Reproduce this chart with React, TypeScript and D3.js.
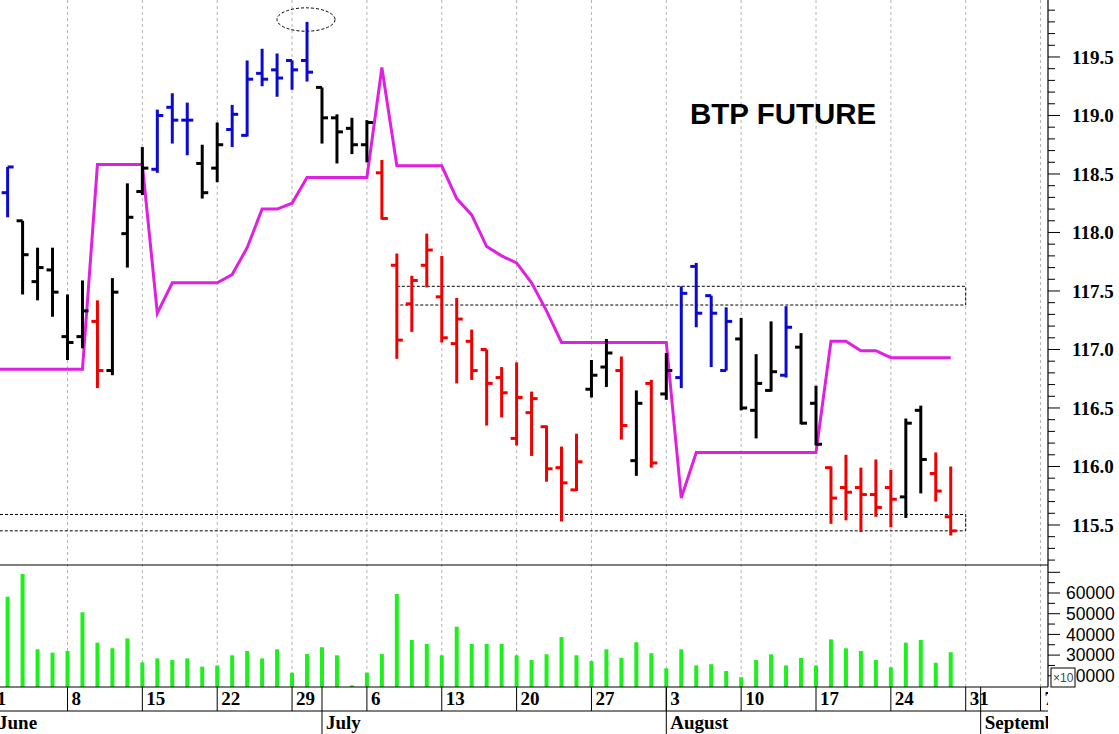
import React from "react";
import * as d3 from "d3";

// ---------- DATA ----------
const dates = [
  "2015-06-01","2015-06-02","2015-06-03","2015-06-04","2015-06-05",
  "2015-06-08","2015-06-09","2015-06-10","2015-06-11","2015-06-12",
  "2015-06-15","2015-06-16","2015-06-17","2015-06-18","2015-06-19",
  "2015-06-22","2015-06-23","2015-06-24","2015-06-25","2015-06-26",
  "2015-06-29","2015-06-30","2015-07-01","2015-07-02","2015-07-03",
  "2015-07-06","2015-07-07","2015-07-08","2015-07-09","2015-07-10",
  "2015-07-13","2015-07-14","2015-07-15","2015-07-16","2015-07-17",
  "2015-07-20","2015-07-21","2015-07-22","2015-07-23","2015-07-24",
  "2015-07-27","2015-07-28","2015-07-29","2015-07-30","2015-07-31",
  "2015-08-03","2015-08-04","2015-08-05","2015-08-06","2015-08-07",
  "2015-08-10","2015-08-11","2015-08-12","2015-08-13","2015-08-14",
  "2015-08-17","2015-08-18","2015-08-19","2015-08-20","2015-08-21",
  "2015-08-24","2015-08-25","2015-08-26","2015-08-27","2015-08-28",
];

const opens = [
  117.90,118.34,118.10,117.58,117.68, 117.11,117.11,117.24,116.82,117.99,
  118.35,118.54,119.07,118.96,118.59, 118.55,118.88,118.83,119.36,119.39,
  119.47,119.47,119.24,118.98,118.89, 118.75,118.51,117.72,117.39,117.72,
  117.45,117.05,117.07,117.00,116.76, 116.24,116.46,116.34,115.99,115.80,
  116.66,116.85,116.82,116.05,116.71, 116.62,116.76,117.71,117.46,116.82,
  117.09,116.48,116.65,116.78,117.02, 116.54,115.99,115.82,115.82,115.76,
  115.82,115.74,116.48,115.94,115.57,
];
const highs = [
  118.05,118.56,118.10,117.87,117.87, 117.47,117.59,117.42,117.61,118.42,
  118.73,119.05,119.19,119.11,118.75, 118.94,119.09,119.47,119.57,119.53,
  119.47,119.80,119.24,119.01,118.98, 118.96,118.62,117.82,117.63,117.99,
  117.80,117.44,117.17,117.00,116.85, 116.89,116.64,116.35,116.17,116.28,
  116.91,117.09,116.94,116.65,116.74, 116.97,117.54,117.74,117.46,117.36,
  117.27,116.96,117.24,117.37,117.14, 116.69,116.00,116.10,115.99,116.06,
  115.97,116.41,116.52,116.12,116.00,
];
const lows = [
  117.55,118.13,117.47,117.42,117.28, 116.91,117.01,116.67,116.78,117.70,
  118.32,118.51,118.76,118.66,118.29, 118.43,118.73,118.82,119.25,119.16,
  119.22,119.29,118.76,118.59,118.67, 118.60,118.11,116.92,117.15,117.53,
  117.06,116.71,116.74,116.35,116.42, 116.18,116.09,115.87,115.53,115.79,
  116.59,116.68,116.23,115.92,115.99, 116.57,116.67,117.19,116.85,116.82,
  116.48,116.24,116.64,116.76,116.36, 116.18,115.51,115.54,115.44,115.57,
  115.48,115.56,115.77,115.70,115.41,
];
const closes = [
  117.70,118.56,117.81,117.70,117.49, 117.06,117.33,116.82,117.49,118.13,
  118.55,119.00,118.96,118.96,118.34, 118.75,119.01,119.31,119.31,119.32,
  119.39,119.37,118.98,118.86,118.75, 118.94,118.12,117.08,117.59,117.85,
  117.10,117.26,116.82,116.71,116.63, 116.59,116.58,115.98,115.86,116.04,
  116.78,116.97,116.35,116.54,116.03, 116.82,117.48,117.31,117.31,117.24,
  116.50,116.71,116.81,117.19,116.37, 116.19,115.73,115.78,115.76,115.65,
  115.72,116.37,116.06,115.79,115.45,
];
// trend signal of each bar: B = up (blue), K = neutral (black), R = down (red)
const signals = [
  "K","B","K","K","K", "K","K","R","K","K",
  "K","B","B","B","K", "K","B","B","B","B",
  "B","B","K","K","K", "K","R","R","R","R",
  "R","R","R","R","R", "R","R","R","R","R",
  "K","K","R","K","R", "K","B","B","B","B",
  "K","K","K","B","K", "K","R","R","R","R",
  "R","K","K","R","R",
];
const stopLine = [
  116.83,116.83,116.83,116.83,116.83, 116.83,116.83,118.58,118.58,118.58,
  118.58,117.31,117.57,117.57,117.57, 117.57,117.64,117.87,118.20,118.20,
  118.25,118.47,118.47,118.47,118.47, 118.47,119.41,118.57,118.57,118.57,
  118.57,118.29,118.15,117.88,117.80, 117.74,117.57,117.33,117.06,117.06,
  117.06,117.06,117.06,117.06,117.06, 117.06,115.73,116.12,116.12,116.12,
  116.12,116.12,116.12,116.12,116.12, 116.12,117.07,117.07,116.99,116.99,
  116.93,116.93,116.93,116.93,116.93,
];
const volumes = [
  40000,58200,69200,32800,31200, 32000,50700,36000,33300,38100,
  26500,28400,27600,28400,24400, 25000,29900,32000,28400,32800,
  21500,30500,33800,29900,15400, 21500,30500,59500,37300,35400,
  29900,43700,35400,35400,35400, 29900,27600,30400,38700,29900,
  27100,32800,28600,36200,30900, 23600,32800,25000,25600,22300,
  19300,27600,30400,25000,28600, 25000,37600,33300,32000,27600,
  24100,36000,37300,26300,31400,
];
const monthNames = ["June", "July", "August", "September"];
const title = "BTP FUTURE";
// annotation zones (price levels)
const upperZone = [117.38, 117.54];
const lowerZone = [115.45, 115.59];
const peakDate = "2015-06-30";

// ---------- LAYOUT ----------
const W = 1119, H = 734;
const AXIS_X = 1048;
const PRICE_BOTTOM = 565;
const VOL_BOTTOM = 687;
const DATE_ROW = 711;

const parse = d3.timeParse("%Y-%m-%d");
const startDay = parse(dates[0]) as Date;
const tradeIndex = (d: Date) =>
  d3.timeMonday.count(startDay, d) * 5 + ((d.getDay() + 6) % 7);

const x = d3.scaleLinear().domain([0, 65]).range([-7.35, 965.7]);
const yP = d3.scaleLinear().domain([115.158, 119.987]).range([PRICE_BOTTOM, 0]);
const yV = d3.scaleLinear().domain([14590, 73530]).range([VOL_BOTTOM, PRICE_BOTTOM]);

const colorOf: Record<string, string> = { B: "#0a0ad2", K: "#000000", R: "#f00000" };

export default function App() {
  const pts = dates.map((s, i) => ({
    i: tradeIndex(parse(s) as Date),
    o: opens[i], h: highs[i], l: lows[i], c: closes[i],
    sig: signals[i], v: volumes[i], stop: stopLine[i],
  }));

  const mondays = d3.timeMonday.range(startDay, new Date(2015, 8, 8));
  const monthStarts = d3.timeMonth.range(new Date(2015, 5, 1), new Date(2015, 9, 1)).map((m) => {
    let d = m;
    while (d.getDay() === 0 || d.getDay() === 6) d = d3.timeDay.offset(d, 1);
    return d;
  });

  const line = d3.line<any>().x((d) => x(d.i)).y((d) => yP(d.stop));

  const priceTicks = d3.range(1152, 1201).map((v) => v / 10);
  const volTicks = d3.range(15000, 75000, 5000);

  const zoneRight = x(65);
  const upperLeft = x(tradeIndex(parse("2015-07-08") as Date));
  const peakX = x(tradeIndex(parse(peakDate) as Date));

  const serif = "'Liberation Serif', 'Times New Roman', serif";
  const sans = "'Liberation Sans', Arial, sans-serif";

  return (
    <svg width={W} height={H} style={{ position: "absolute", left: 0, top: 0, background: "#fff" }}>
      <defs>
        <clipPath id="plotClip"><rect x={0} y={0} width={AXIS_X} height={VOL_BOTTOM} /></clipPath>
        <clipPath id="axisClip"><rect x={0} y={VOL_BOTTOM} width={AXIS_X} height={H - VOL_BOTTOM} /></clipPath>
      </defs>
      <rect x={0} y={0} width={W} height={H} fill="#fff" />

      {/* grid */}
      <g clipPath="url(#plotClip)">
        {mondays.map((m, k) => (
          <line key={k} x1={x(tradeIndex(m))} x2={x(tradeIndex(m))} y1={0} y2={VOL_BOTTOM}
            stroke="#b4b4b4" strokeWidth={1} strokeDasharray="3,3" />
        ))}
      </g>

      {/* zones & annotation */}
      <g fill="none" stroke="#000" strokeWidth={1} strokeDasharray="3,2">
        <rect x={upperLeft} y={yP(upperZone[1])} width={zoneRight - upperLeft}
          height={yP(upperZone[0]) - yP(upperZone[1])} />
        <rect x={-5} y={yP(lowerZone[1])} width={zoneRight + 5}
          height={yP(lowerZone[0]) - yP(lowerZone[1])} />
        <ellipse cx={peakX - 1} cy={yP(119.82)} rx={29} ry={yP(119.72) - yP(119.82)} />
      </g>

      {/* stop line */}
      <g clipPath="url(#plotClip)">
        <path d={line(pts) as string} fill="none" stroke="#e020e0" strokeWidth={3} strokeLinejoin="miter" />
      </g>

      {/* OHLC bars */}
      <g clipPath="url(#plotClip)">
        {pts.map((p, k) => {
          const cx = x(p.i);
          const col = colorOf[p.sig];
          return (
            <g key={k} stroke={col} strokeWidth={3}>
              <line x1={cx} x2={cx} y1={yP(p.h)} y2={yP(p.l)} />
              <line x1={cx - 6} x2={cx} y1={yP(p.o)} y2={yP(p.o)} />
              <line x1={cx} x2={cx + 6} y1={yP(p.c)} y2={yP(p.c)} />
            </g>
          );
        })}
      </g>

      {/* volume */}
      <g clipPath="url(#plotClip)">
        {pts.map((p, k) => (
          <rect key={k} x={x(p.i) - 2} y={yV(p.v)} width={4} height={VOL_BOTTOM - yV(p.v)} fill="#1ef01e" />
        ))}
      </g>

      {/* title */}
      <text x={690} y={124} fontFamily={sans} fontWeight="bold" fontSize={29.5} fill="#000">{title}</text>

      {/* panel borders */}
      <line x1={0} x2={AXIS_X} y1={PRICE_BOTTOM} y2={PRICE_BOTTOM} stroke="#000" strokeWidth={1.2} />
      <line x1={0} x2={AXIS_X} y1={VOL_BOTTOM} y2={VOL_BOTTOM} stroke="#000" strokeWidth={1.2} />
      <line x1={0} x2={AXIS_X} y1={DATE_ROW} y2={DATE_ROW} stroke="#000" strokeWidth={1} />
      <line x1={AXIS_X} x2={AXIS_X} y1={0} y2={VOL_BOTTOM} stroke="#000" strokeWidth={1.2} />

      {/* price axis */}
      <g>
        {priceTicks.map((v, k) => {
          const major = Math.round(v * 10) % 5 === 0;
          const yy = yP(v);
          return (
            <g key={k}>
              <line x1={AXIS_X} x2={AXIS_X + (major ? 12 : 7)} y1={yy} y2={yy} stroke="#000" strokeWidth={1} />
              {major && yy > 10 && yy < 555 && (
                <text x={1072} y={yy} dy="0.35em" fontFamily={serif} fontWeight="bold" fontSize={19} fill="#000">
                  {v.toFixed(1)}
                </text>
              )}
            </g>
          );
        })}
      </g>

      {/* volume axis */}
      <g>
        {volTicks.map((v, k) => {
          const major = v % 10000 === 0;
          const yy = yV(v);
          if (yy < PRICE_BOTTOM + 2 || yy > VOL_BOTTOM - 2) return null;
          return (
            <g key={k}>
              <line x1={AXIS_X} x2={AXIS_X + (major ? 12 : 7)} y1={yy} y2={yy} stroke="#000" strokeWidth={1} />
              {major && v <= 60000 && (
                <text x={1066} y={yy} dy="0.35em" fontFamily={sans} fontSize={17.5} fill="#000">
                  {v}
                </text>
              )}
            </g>
          );
        })}
        <rect x={1051} y={668} width={24} height={19} fill="#fff" stroke="#000" strokeWidth={1} />
        <text x={1053} y={682} fontFamily={sans} fontSize={12} fill="#444">×10</text>
      </g>

      {/* date axis */}
      <g clipPath="url(#axisClip)">
        {mondays.map((m, k) => {
          const xx = x(tradeIndex(m));
          return (
            <g key={k}>
              <line x1={xx} x2={xx} y1={VOL_BOTTOM} y2={DATE_ROW} stroke="#000" strokeWidth={1} />
              <text x={xx + 4} y={705} fontFamily={serif} fontWeight="bold" fontSize={19} fill="#000">
                {m.getDate()}
              </text>
            </g>
          );
        })}
        {monthStarts.map((m, k) => {
          const xx = x(tradeIndex(m));
          return (
            <g key={k}>
              <line x1={xx} x2={xx} y1={VOL_BOTTOM} y2={H} stroke="#000" strokeWidth={1} />
              <text x={k === 0 ? -2 : xx + 4} y={729} fontFamily={serif} fontWeight="bold" fontSize={19} fill="#000">
                {monthNames[k]}
              </text>
            </g>
          );
        })}
      </g>
    </svg>
  );
}
